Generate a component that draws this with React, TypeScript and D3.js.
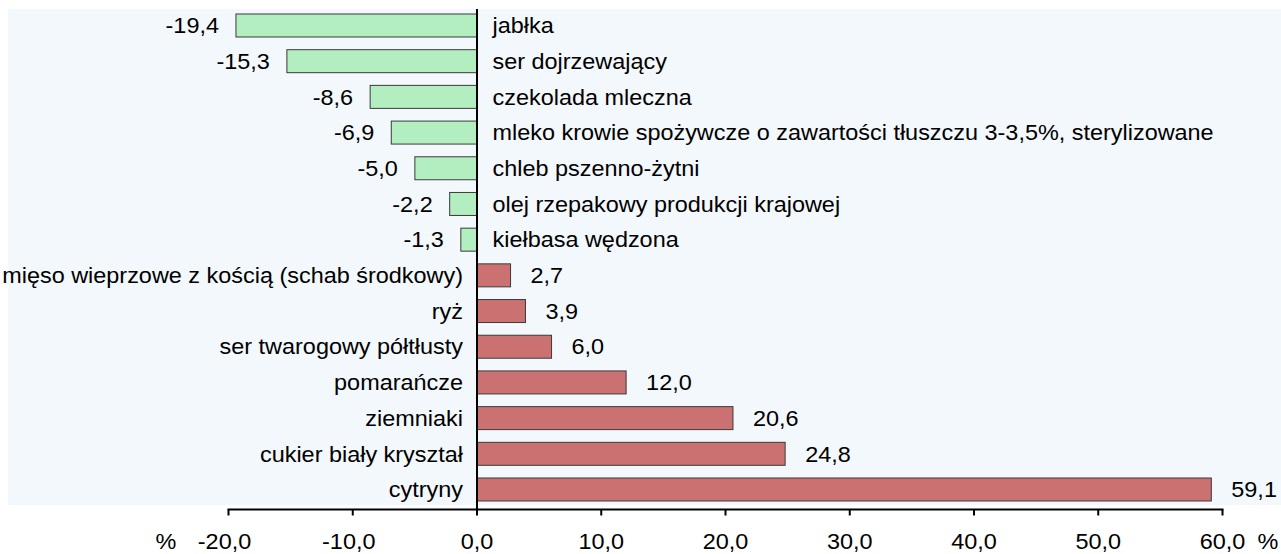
import React from "react";
import * as d3 from "d3";

const categories = [
  "jabłka",
  "ser dojrzewający",
  "czekolada mleczna",
  "mleko krowie spożywcze o zawartości tłuszczu 3-3,5%, sterylizowane",
  "chleb pszenno-żytni",
  "olej rzepakowy produkcji krajowej",
  "kiełbasa wędzona",
  "mięso wieprzowe z kością (schab środkowy)",
  "ryż",
  "ser twarogowy półtłusty",
  "pomarańcze",
  "ziemniaki",
  "cukier biały kryształ",
  "cytryny",
];
const values = [-19.4, -15.3, -8.6, -6.9, -5.0, -2.2, -1.3, 2.7, 3.9, 6.0, 12.0, 20.6, 24.8, 59.1];
const tickValues = [-20, -10, 0, 10, 20, 30, 40, 50, 60];

const W = 1281;
const H = 554;
const FONT = "'Liberation Sans', Arial, sans-serif";
const FS = 22;
const SX = 1.065;
const fmt = (v: number) => v.toFixed(1).replace(".", ",");

function T(props: { x: number; y: number; anchor: "start" | "middle" | "end"; central?: boolean; children: React.ReactNode }) {
  return (
    <text
      transform={`translate(${props.x},${props.y}) scale(${SX},1)`}
      textAnchor={props.anchor}
      dominantBaseline={props.central ? "central" : undefined}
      fontSize={FS}
      fill="#000"
    >
      {props.children}
    </text>
  );
}

export default function App() {
  const x = d3.scaleLinear().domain([-20, 60]).range([228.5, 1222.5]);
  const y = d3
    .scaleBand<string>()
    .domain(categories)
    .range([7.65, 507.35])
    .paddingInner(0.356)
    .paddingOuter(0.178);
  const x0 = x(0);
  const axisY = 509.5;
  const bw = y.bandwidth();

  return (
    <svg
      width={W}
      height={H}
      style={{ position: "absolute", left: 0, top: 0 }}
      fontFamily={FONT}
    >
      <rect x={8} y={9} width={W - 8} height={496} fill="#f2f8fb" />
      {categories.map((c, i) => {
        const v = values[i];
        const yy = y(c)!;
        const cy = yy + bw / 2;
        const neg = v < 0;
        const bx = neg ? x(v) : x0;
        const w = Math.abs(x(v) - x0);
        return (
          <g key={c}>
            <rect
              x={bx}
              y={yy}
              width={w}
              height={bw}
              fill={neg ? "#b3eec0" : "#cc7171"}
              stroke="#3a3a3a"
              strokeWidth={1}
            />
            <T x={neg ? x(v) - 17 : x(v) + 20} y={cy} anchor={neg ? "end" : "start"} central>
              {fmt(v)}
            </T>
            <T x={neg ? x0 + 15.5 : x0 - 14} y={cy} anchor={neg ? "start" : "end"} central>
              {c}
            </T>
          </g>
        );
      })}
      <line x1={x0} x2={x0} y1={9} y2={axisY} stroke="#000" strokeWidth={2} />
      <line x1={x(-20) - 1} x2={x(60) + 1} y1={axisY} y2={axisY} stroke="#000" strokeWidth={2} />
      {tickValues.map((t) => (
        <g key={t}>
          <line x1={x(t)} x2={x(t)} y1={axisY} y2={axisY + 6} stroke="#000" strokeWidth={2} />
          <T x={x(t) - (t < 0 ? 4 : 0)} y={549} anchor="middle">
            {fmt(t)}
          </T>
        </g>
      ))}
      <T x={166} y={549} anchor="middle">%</T>
      <T x={1268} y={549} anchor="middle">%</T>
    </svg>
  );
}
